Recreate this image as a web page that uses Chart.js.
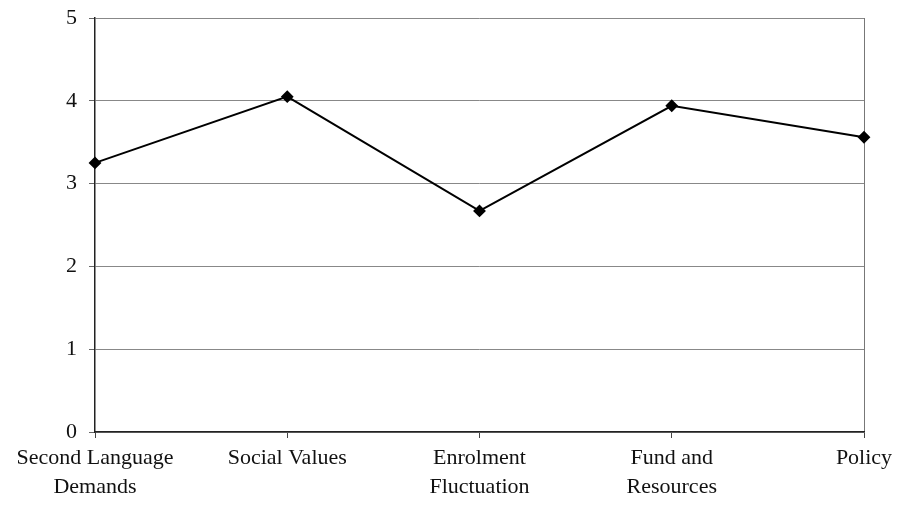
<!DOCTYPE html>
<html>
<head>
<meta charset="utf-8">
<script src="https://cdn.jsdelivr.net/npm/chart.js@4/dist/chart.umd.min.js"></script>
<style>
  html, body { margin: 0; padding: 0; background: #fff; }
  #wrap { width: 897px; height: 505px; }
</style>
</head>
<body>
<div id="wrap"><canvas id="chart" width="897" height="505"></canvas></div>
<script>
// categories and mean scores
const categories = [
    ['Second Language', 'Demands'],
    'Social Values',
    ['Enrolment', 'Fluctuation'],
    ['Fund and', 'Resources'],
    'Policy'
];
const scores = [3.25, 4.05, 2.67, 3.94, 3.56];
const yTicks = [0, 1, 2, 3, 4, 5];

const family = '"Liberation Serif", "Times New Roman", serif';
const xFont = { family: family, size: 22, lineHeight: 1.3 };
const yFont = { family: family, size: 22, lineHeight: 1 };

new Chart(document.getElementById('chart'), {
    type: 'line',
    data: {
        labels: categories,
        datasets: [{
            data: scores,
            borderColor: '#000',
            borderWidth: 2,
            backgroundColor: '#000',
            pointStyle: 'rectRot',
            pointRadius: 5,
            pointHoverRadius: 5,
            tension: 0
        }]
    },
    options: {
        responsive: false,
        animation: false,
        layout: { padding: 0 },
        plugins: { legend: { display: false }, tooltip: { enabled: false } },
        scales: {
            x: {
                offset: false,
                grid: {
                    color: c => c.index === categories.length - 1 ? '#777' : 'transparent',
                    tickColor: '#444',
                    tickLength: 6
                },
                border: { color: '#222', width: 1.5 },
                ticks: { color: '#111', font: xFont, maxRotation: 0, autoSkip: false, padding: 6 },
                afterFit: s => { s.height = 73; s.paddingRight = 33; }
            },
            y: {
                min: 0, max: 5,
                afterBuildTicks: s => { s.ticks = yTicks.map(v => ({ value: v })); },
                grid: { color: '#888', tickColor: '#666', tickLength: 6 },
                border: { color: '#222', width: 1.5 },
                ticks: { color: '#111', font: yFont, padding: 12 },
                afterFit: s => { s.width = 95; s.paddingTop = 18; }
            }
        }
    }
});
</script>
</body>
</html>
